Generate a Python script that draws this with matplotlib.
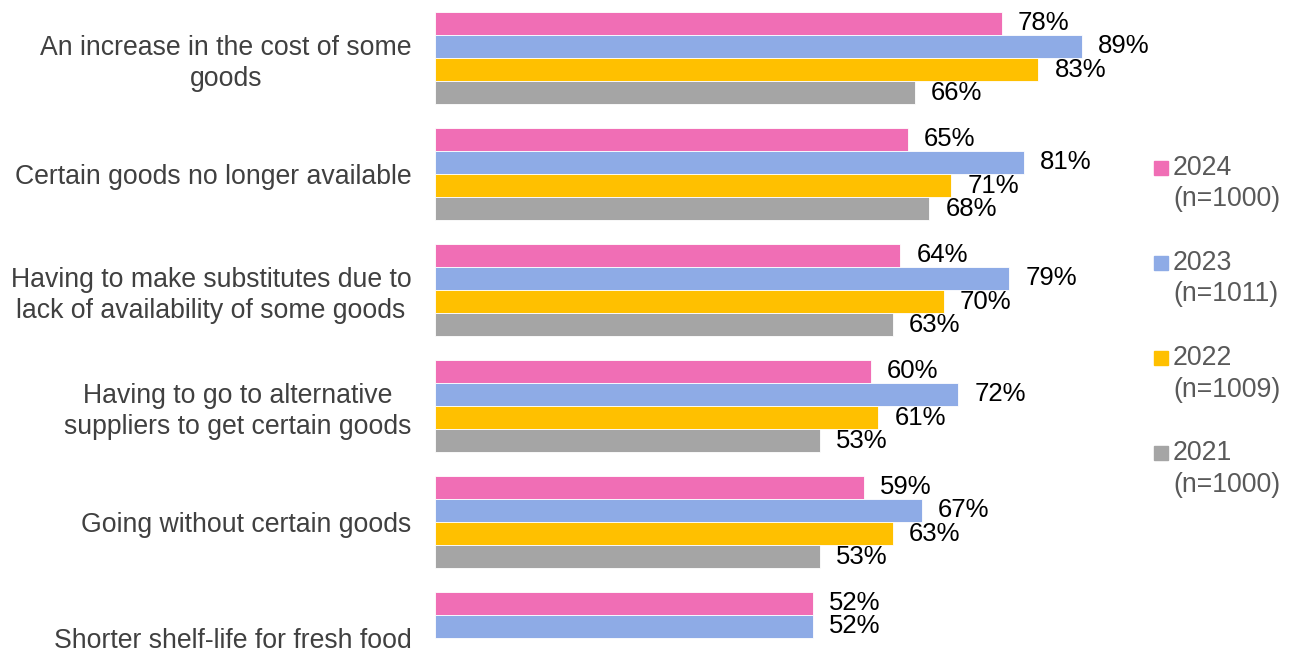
import matplotlib

matplotlib.use("Agg")
import matplotlib.pyplot as plt
import numpy as np
from matplotlib.patches import Rectangle

plt.rcParams["font.family"] = ["Liberation Sans", "DejaVu Sans"]

categories = [
    "An increase in the cost of some\ngoods",
    "Certain goods no longer available",
    "Having to make substitutes due to\nlack of availability of some goods",
    "Having to go to alternative\nsuppliers to get certain goods",
    "Going without certain goods",
    "Shorter shelf-life for fresh food",
]
years = ["2024", "2023", "2022", "2021"]
sample_sizes = ["(n=1000)", "(n=1011)", "(n=1009)", "(n=1000)"]
colors = ["#F06EB5", "#8EABE6", "#FFC000", "#A5A5A5"]

pct_2024 = [78, 65, 64, 60, 59, 52]
pct_2023 = [89, 81, 79, 72, 67, 52]
pct_2022 = [83, 71, 70, 61, 63, np.nan]  # shelf-life question not asked before 2023
pct_2021 = [66, 68, 63, 53, 53, np.nan]
series = [pct_2024, pct_2023, pct_2022, pct_2021]

W, H, DPI = 1296, 651, 100
fig = plt.figure(figsize=(W / DPI, H / DPI), dpi=DPI)
ax = fig.add_axes([435 / W, 0, 727 / W, 1])

bar_h = 0.2
y = np.arange(len(categories))
for k, (vals, col) in enumerate(zip(series, colors)):
    pos = y + (k - 1.5) * bar_h
    vals = np.array(vals, dtype=float)
    ax.barh(pos, vals, height=bar_h, color=col, edgecolor="white", linewidth=0.6)
    for p, v in zip(pos, vals):
        if np.isnan(v):
            continue
        ax.annotate(f"{v:.0f}%", (v, p), xytext=(11.5, 0), textcoords="offset points",
                    ha="left", va="center", fontsize=18.5, color="black")

ax.set_xlim(0, 100)
ax.set_ylim(-0.5 + H / 116, -0.5)  # one category group = 116 px, bottom cropped
ax.set_yticks(y)
ax.set_yticklabels(categories, fontsize=19.2, color="#404040",
                   multialignment="center", linespacing=1.27)
ax.tick_params(axis="y", length=0, pad=17)
ax.tick_params(axis="x", bottom=False, labelbottom=False)
for s in ax.spines.values():
    s.set_visible(False)

# legend: square swatch beside the year, sample size on a second line
for k, (yr, n, col) in enumerate(zip(years, sample_sizes, colors)):
    yc = 168 + 95 * k
    fig.patches.append(Rectangle((1154 / W, 1 - (yc + 7) / H), 14 / W, 14 / H,
                                 transform=fig.transFigure, color=col))
    fig.text(1173 / W, 1 - yc / H, yr, ha="left", va="center", fontsize=19.2, color="#595959")
    fig.text(1173 / W, 1 - (yc + 31.5) / H, n, ha="left", va="center", fontsize=19.2, color="#595959")

fig.savefig("out.png", dpi=DPI)
